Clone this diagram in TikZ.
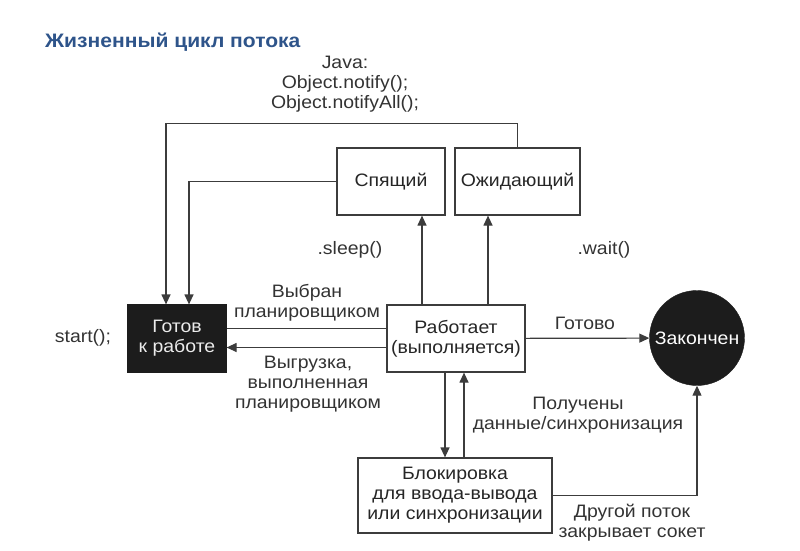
\documentclass[tikz,border=0pt]{standalone}
\usepackage{fontspec}
\setmainfont{Liberation Sans}[FakeStretch=1.08]
\usetikzlibrary{arrows.meta,positioning}
\definecolor{titleblue}{RGB}{46,84,138}
\definecolor{linegray}{RGB}{60,60,60}
\definecolor{boxblack}{RGB}{28,28,28}

\begin{document}
\begin{tikzpicture}[x=1pt,y=-1pt]
\tikzset{
  statebox/.style={rectangle,draw=linegray,line width=1.2pt,fill=white,inner sep=2pt,align=center,text=black!85},
  darkbox/.style={statebox,fill=boxblack,draw=boxblack,text=white!92!black},
  endstate/.style={circle,fill=boxblack,draw=boxblack,minimum size=95pt,inner sep=0pt,text=white},
  label/.style={align=center,text=black!80,inner sep=0pt},
  directed/.style={-{Triangle[length=10pt,width=9pt]},line width=1.2pt,draw=linegray},
  undirected/.style={line width=1.2pt,draw=linegray}
}
\useasboundingbox (0,0) rectangle (800,551);
\fontsize{18}{20}\selectfont
\node[anchor=west,inner sep=0pt,text=titleblue,font=\bfseries\fontsize{19.5}{22}\selectfont] (n_title) at (45,42) {Жизненный цикл потока};
\node[label] (n_java) at (345,84) {Java:\\Object.notify();\\Object.notifyAll();};
\node[statebox,minimum width=108pt,minimum height=67pt] (n_sleeping) at (391,181.5) {Спящий};
\node[statebox,minimum width=125pt,minimum height=67pt] (n_waiting) at (517.5,181.5) {Ожидающий};
\node[darkbox,minimum width=98pt,minimum height=67pt] (n_ready) at (177,338.5) {Готов\\к работе};
\node[statebox,minimum width=138pt,minimum height=67pt] (n_running) at (456,338.5) {Работает\\(выполняется)};
\node[endstate] (n_done) at (697,338) {Закончен};
\node[statebox,minimum width=194pt,minimum height=75pt] (n_blocked) at (455,495.5) {Блокировка\\для ввода-вывода\\или синхронизации};
\node[label] (n_start) at (83,338) {start();};
\node[label] (n_sleep) at (350,250) {.sleep()};
\node[label] (n_wait) at (604,250) {.wait()};
\node[label] (n_chosen) at (307,303) {Выбран\\планировщиком};
\node[label] (n_unload) at (308,384) {Выгрузка,\\выполненная\\планировщиком};
\node[label] (n_finished) at (585,323) {Готово};
\node[label] (n_gotdata) at (578,415) {Получены\\данные/синхронизация};
\node[label] (n_closed) at (632,523) {Другой поток\\закрывает сокет};
\draw[directed] (n_waiting.north) -- ++(0,-24) -| ([xshift=-11pt]n_ready.north);
\draw[directed] (n_sleeping.west) -| ([xshift=12pt]n_ready.north);
\draw[directed] ([xshift=-34pt]n_running.north) -- ([xshift=-34pt]n_running.north |- n_sleeping.south);
\draw[directed] ([xshift=32pt]n_running.north) -- ([xshift=32pt]n_running.north |- n_waiting.south);
\draw[undirected] ([yshift=10pt]n_ready.east) -- ([yshift=10pt]n_ready.east -| n_running.west);
\draw[directed] ([yshift=-9pt]n_ready.east -| n_running.west) -- ([yshift=-9pt]n_ready.east);
\draw[directed] (n_running) -- (n_done);
\draw[directed] ([xshift=-11pt]n_running.south) -- ([xshift=-11pt]n_running.south |- n_blocked.north);
\draw[directed] ([xshift=8pt]n_running.south |- n_blocked.north) -- ([xshift=8pt]n_running.south);
\draw[directed] (n_blocked.east) -| (n_done.south);
\end{tikzpicture}
\end{document}
